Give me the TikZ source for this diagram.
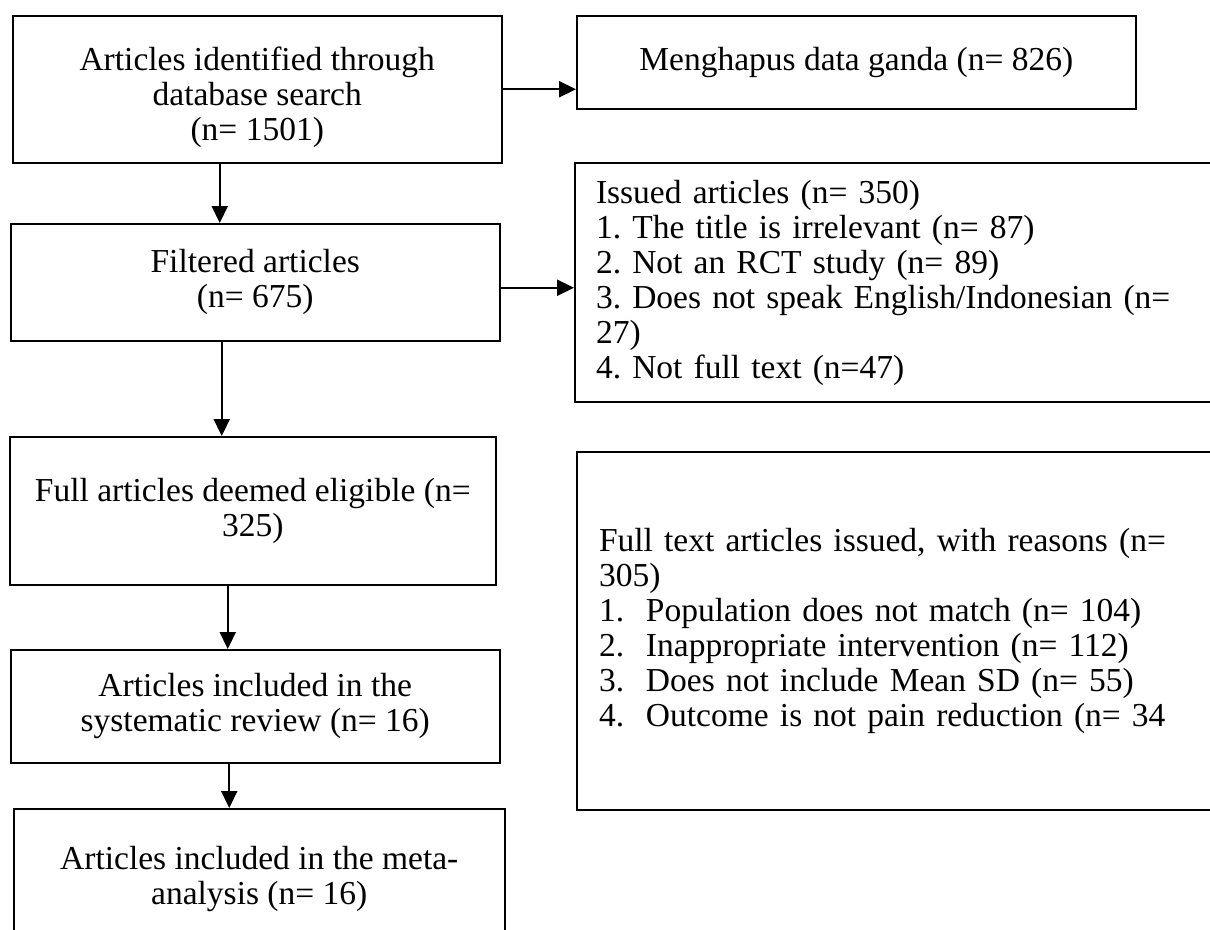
\documentclass[tikz,border=0pt]{standalone}
\usepackage{fontspec}
\setmainfont{Liberation Serif}
\usetikzlibrary{arrows.meta,calc}
\tikzset{
  txt/.style={font=\fontsize{33.5}{35}\selectfont\frenchspacing},
  box/.style={txt, draw, line width=1.5pt, inner sep=0pt, anchor=north west, align=center},
  listbox/.style={txt, draw, line width=2pt, inner ysep=0pt, anchor=north west, align=left},
  arr/.style={line width=2.2pt, -{Triangle[length=17pt,width=16pt]}}
}
\begin{document}
\begin{tikzpicture}[x=1pt,y=-1pt]
\useasboundingbox (0,0) rectangle (1210,929);
% left column
\node[box, minimum width=489pt, minimum height=147pt] (b1) at (12,15) {\rule{0pt}{40pt}Articles identified through\\database search\\(n= 1501)};
\node[box, minimum width=489pt, minimum height=117pt] (b3) at (10,223) {Filtered articles\\(n= 675)};
\node[box, minimum width=486pt, minimum height=148pt] (b4) at (9,436) {Full articles deemed eligible (n=\\325)};
\node[box, minimum width=489pt, minimum height=113pt] (b5) at (10,649) {Articles included in the\\systematic review (n= 16)};
\node[box, minimum width=491pt, minimum height=140pt] (b6) at (13,808) {Articles included in the meta-\\analysis (n= 16)};
% right column
\node[box, minimum width=559pt, minimum height=93pt] (b2) at (576,15) {Menghapus data ganda (n= 826)};
\node[listbox, text width=599pt, inner xsep=21pt, minimum height=239pt] (iss) at (574,162) {Issued articles (n= 350)\\1. The title is irrelevant (n= 87)\\2. Not an RCT study (n= 89)\\3. Does not speak English/Indonesian (n=\\27)\\4. Not full text (n=47)};
\node[listbox, text width=597pt, inner xsep=22pt, minimum height=358pt] (ft) at (576,451) {\makebox[597pt][s]{Full text articles issued, with reasons (n=}\\305)\\\makebox[47pt][l]{1.}Population does not match (n= 104)\\\makebox[47pt][l]{2.}Inappropriate intervention (n= 112)\\\makebox[47pt][l]{3.}Does not include Mean SD (n= 55)\\\makebox[47pt][l]{4.}Outcome is not pain reduction (n= 34};
% connectors
\draw[arr] (b1.east) -- (b1.east -| b2.west);
\draw[arr] ([xshift=-37.5pt]b1.south) -- ([xshift=-37.5pt]b1.south |- b3.north);
\draw[arr] ([yshift=-5.5pt]b3.east) -- ([yshift=-5.5pt]b3.east -| iss.west);
\draw[arr] ([xshift=-33.5pt]b3.south) -- ([xshift=-33.5pt]b3.south |- b4.north);
\draw[arr] ([xshift=-25pt]b4.south) -- ([xshift=-25pt]b4.south |- b5.north);
\draw[arr] ([xshift=-26pt]b5.south) -- ([xshift=-26pt]b5.south |- b6.north);
\end{tikzpicture}
\end{document}
